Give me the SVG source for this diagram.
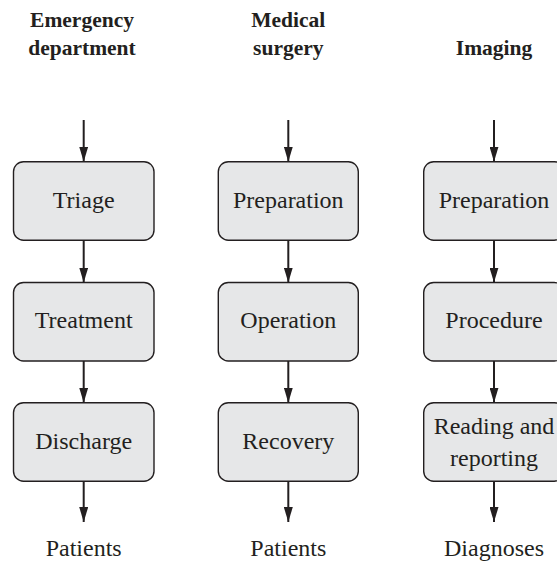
<svg xmlns="http://www.w3.org/2000/svg" width="557" height="565" viewBox="0 0 557 565">
  <defs>
    <marker id="ah" markerUnits="userSpaceOnUse" markerWidth="15" markerHeight="9" viewBox="0 0 15 9" refX="15" refY="4.5" orient="auto">
      <path d="M0,0 L15,4.5 L0,9 Z" fill="#231f20"/>
    </marker>
    <style>
      text { font-family: 'Liberation Serif', 'Times New Roman', Times, 'DejaVu Serif', serif; fill: #231f20; text-anchor: middle; }
      .head { font-weight: bold; font-size: 21.5px; }
      .lbl { font-size: 24px; }
      .box { fill: #e6e7e8; stroke: #231f20; stroke-width: 1.4; }
      .conn line { stroke: #231f20; stroke-width: 2; marker-end: url(#ah); }
    </style>
  </defs>
  <rect width="557" height="565" fill="#ffffff"/>

  <!-- column headings -->
  <g id="head-ed" font-family="Liberation Serif, serif">
    <text class="head" x="82" y="27">Emergency</text>
    <text class="head" x="82" y="55">department</text>
  </g>
  <g id="head-surgery" font-family="Liberation Serif, serif">
    <text class="head" x="288.3" y="27">Medical</text>
    <text class="head" x="288.3" y="55">surgery</text>
  </g>
  <g id="head-imaging" font-family="Liberation Serif, serif">
    <text class="head" x="494" y="55">Imaging</text>
  </g>

  <!-- connectors -->
  <g class="conn">
    <line x1="83.7" y1="120" x2="83.7" y2="161.7"/>
    <line x1="83.7" y1="240.2" x2="83.7" y2="282.5"/>
    <line x1="83.7" y1="361" x2="83.7" y2="402.7"/>
    <line x1="83.7" y1="481.2" x2="83.7" y2="522"/>

    <line x1="288.3" y1="120" x2="288.3" y2="161.7"/>
    <line x1="288.3" y1="240.2" x2="288.3" y2="282.5"/>
    <line x1="288.3" y1="361" x2="288.3" y2="402.7"/>
    <line x1="288.3" y1="481.2" x2="288.3" y2="522"/>

    <line x1="494" y1="120" x2="494" y2="161.7"/>
    <line x1="494" y1="240.2" x2="494" y2="282.5"/>
    <line x1="494" y1="361" x2="494" y2="402.7"/>
    <line x1="494" y1="481.2" x2="494" y2="522"/>
  </g>

  <!-- emergency department -->
  <g id="triage">
    <rect class="box" x="13.5" y="161.7" width="140.5" height="78.5" rx="10"/>
    <text class="lbl" x="83.7" y="207.5">Triage</text>
  </g>
  <g id="treatment">
    <rect class="box" x="13.5" y="282.5" width="140.5" height="78.5" rx="10"/>
    <text class="lbl" x="83.7" y="328.3">Treatment</text>
  </g>
  <g id="discharge">
    <rect class="box" x="13.5" y="402.7" width="140.5" height="78.5" rx="10"/>
    <text class="lbl" x="83.7" y="448.5">Discharge</text>
  </g>
  <g id="out-ed">
    <text class="lbl" x="83.7" y="556">Patients</text>
  </g>

  <!-- medical surgery -->
  <g id="surg-prep">
    <rect class="box" x="218.3" y="161.7" width="140" height="78.5" rx="10"/>
    <text class="lbl" x="288.3" y="207.5">Preparation</text>
  </g>
  <g id="operation">
    <rect class="box" x="218.3" y="282.5" width="140" height="78.5" rx="10"/>
    <text class="lbl" x="288.3" y="328.3">Operation</text>
  </g>
  <g id="recovery">
    <rect class="box" x="218.3" y="402.7" width="140" height="78.5" rx="10"/>
    <text class="lbl" x="288.3" y="448.5">Recovery</text>
  </g>
  <g id="out-surgery">
    <text class="lbl" x="288.3" y="556">Patients</text>
  </g>

  <!-- imaging -->
  <g id="img-prep">
    <rect class="box" x="423.7" y="161.7" width="140.5" height="78.5" rx="10"/>
    <text class="lbl" x="494" y="207.5">Preparation</text>
  </g>
  <g id="procedure">
    <rect class="box" x="423.7" y="282.5" width="140.5" height="78.5" rx="10"/>
    <text class="lbl" x="494" y="328.3">Procedure</text>
  </g>
  <g id="reading">
    <rect class="box" x="423.7" y="402.7" width="140.5" height="78.5" rx="10"/>
    <text class="lbl" x="494" y="434">Reading and</text>
    <text class="lbl" x="494" y="466">reporting</text>
  </g>
  <g id="out-imaging">
    <text class="lbl" x="494" y="556">Diagnoses</text>
  </g>
</svg>
